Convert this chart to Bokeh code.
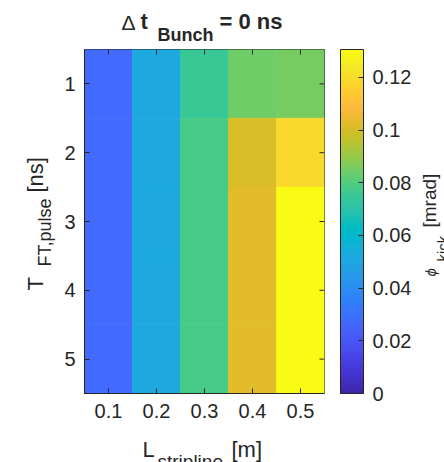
import numpy as np
from bokeh.plotting import figure
from bokeh.models import (LinearColorMapper, ColorBar, FixedTicker, Range1d,
                          ColumnDataSource, CustomJSTickFormatter)
from bokeh.core.properties import value
from bokeh.transform import transform
from bokeh.layouts import row, column
from bokeh.embed import file_html
from bokeh.resources import INLINE

# ---- data ----
L_stripline = [0.1, 0.2, 0.3, 0.4, 0.5]          # m
T_pulse = [1, 2, 3, 4, 5]                         # ns
phi_T1 = [0.0275, 0.052, 0.0745, 0.0845, 0.0855]  # mrad
phi_T2 = [0.0275, 0.052, 0.0785, 0.1015, 0.119]
phi_T3 = [0.0275, 0.052, 0.0785, 0.103, 0.1306]
phi_T4 = [0.0275, 0.052, 0.0785, 0.103, 0.1306]
phi_T5 = [0.0275, 0.052, 0.0785, 0.103, 0.1306]
phi_rows = [phi_T1, phi_T2, phi_T3, phi_T4, phi_T5]
cbar_ticks = [0, 0.02, 0.04, 0.06, 0.08, 0.1, 0.12]
clim = [0, 0.1306]

# ---- parula colormap ----
parula64 = [
    (0.2422, 0.1504, 0.6603), (0.2504, 0.1650, 0.7076), (0.2578, 0.1818, 0.7511), (0.2647, 0.1978, 0.7952),
    (0.2706, 0.2147, 0.8364), (0.2751, 0.2342, 0.8710), (0.2783, 0.2559, 0.8991), (0.2803, 0.2782, 0.9221),
    (0.2813, 0.3006, 0.9414), (0.2810, 0.3228, 0.9579), (0.2795, 0.3447, 0.9717), (0.2760, 0.3667, 0.9829),
    (0.2699, 0.3892, 0.9906), (0.2602, 0.4123, 0.9952), (0.2440, 0.4358, 0.9988), (0.2206, 0.4603, 0.9973),
    (0.1963, 0.4847, 0.9892), (0.1834, 0.5074, 0.9798), (0.1786, 0.5289, 0.9682), (0.1764, 0.5499, 0.9520),
    (0.1687, 0.5703, 0.9359), (0.1540, 0.5902, 0.9218), (0.1460, 0.6091, 0.9079), (0.1380, 0.6276, 0.8973),
    (0.1248, 0.6459, 0.8883), (0.1113, 0.6630, 0.8763), (0.0952, 0.6798, 0.8598), (0.0689, 0.6948, 0.8394),
    (0.0297, 0.7082, 0.8163), (0.0036, 0.7203, 0.7917), (0.0067, 0.7312, 0.7660), (0.0433, 0.7411, 0.7394),
    (0.0964, 0.7500, 0.7120), (0.1408, 0.7584, 0.6842), (0.1717, 0.7670, 0.6554), (0.1938, 0.7758, 0.6251),
    (0.2161, 0.7843, 0.5923), (0.2470, 0.7918, 0.5567), (0.2906, 0.7973, 0.5188), (0.3406, 0.8008, 0.4789),
    (0.3909, 0.8029, 0.4354), (0.4456, 0.8024, 0.3909), (0.5044, 0.7993, 0.3480), (0.5616, 0.7942, 0.3045),
    (0.6174, 0.7876, 0.2612), (0.6720, 0.7793, 0.2227), (0.7242, 0.7698, 0.1910), (0.7738, 0.7598, 0.1646),
    (0.8203, 0.7498, 0.1535), (0.8634, 0.7406, 0.1596), (0.9035, 0.7330, 0.1774), (0.9393, 0.7288, 0.2100),
    (0.9728, 0.7298, 0.2394), (0.9956, 0.7434, 0.2371), (0.9970, 0.7659, 0.2199), (0.9952, 0.7893, 0.2028),
    (0.9892, 0.8136, 0.1885), (0.9786, 0.8386, 0.1766), (0.9676, 0.8639, 0.1643), (0.9610, 0.8890, 0.1537),
    (0.9597, 0.9135, 0.1423), (0.9628, 0.9373, 0.1265), (0.9691, 0.9606, 0.1064), (0.9769, 0.9839, 0.0805)]
arr = np.array(parula64)
t64 = np.linspace(0, 1, 64)
palette = []
for t in np.linspace(0, 1, 256):
    r, g, b = (np.interp(t, t64, arr[:, k]) for k in range(3))
    palette.append("#%02x%02x%02x" % (int(round(r * 255)), int(round(g * 255)), int(round(b * 255))))

mapper = LinearColorMapper(palette=palette, low=clim[0], high=clim[1])

xs, ys, vs = [], [], []
for T, rvals in zip(T_pulse, phi_rows):
    for L, v in zip(L_stripline, rvals):
        xs.append(L); ys.append(T); vs.append(v)
src = ColumnDataSource(dict(x=xs, y=ys, v=vs))

FONT = "Liberation Sans"
TXT = "#262626"
W, H = 444, 462
LEFT_W, RIGHT_W, TOP_H, BOT_H = 58, 28, 45, 30
MAIN_W = W - LEFT_W - RIGHT_W
MAIN_H = H - TOP_H - BOT_H
# frame edges in page pixels
FL, FR, FT, FB = 84, 324, 49, 393

x_rng = Range1d(0.05, 0.55)
y_rng = Range1d(5.5, 0.5)
p = figure(width=MAIN_W, height=MAIN_H, x_range=x_rng, y_range=y_rng,
           output_backend="svg", toolbar_location=None,
           min_border_left=FL - LEFT_W, min_border_right=(W - RIGHT_W) - FR,
           min_border_top=FT - TOP_H, min_border_bottom=(TOP_H + MAIN_H) - FB,
           background_fill_color="white", border_fill_color="white")
p.rect(x="x", y="y", width=0.1, height=1, source=src,
       fill_color=transform("v", mapper), line_color=transform("v", mapper), line_width=0.6)

# mirrored inner ticks on top and right edges (box like the reference)
tick_dy = 5.0 * (y_rng.start - y_rng.end) / (FB - FT)
tick_dx = 5.0 * (x_rng.end - x_rng.start) / (FR - FL)
p.segment(x0=L_stripline, x1=L_stripline, y0=[y_rng.end] * 5, y1=[y_rng.end + tick_dy] * 5,
          line_color="#262626", line_width=1)
p.segment(x0=[x_rng.end] * 5, x1=[x_rng.end - tick_dx] * 5, y0=T_pulse, y1=T_pulse,
          line_color="#262626", line_width=1)

p.grid.visible = False
p.outline_line_color = "#262626"
p.outline_line_width = 1
for ax in (p.xaxis[0], p.yaxis[0]):
    ax.major_tick_in = 5
    ax.major_tick_out = 0
    ax.minor_tick_line_color = None
    ax.axis_line_color = "#262626"
    ax.major_tick_line_color = "#262626"
    ax.major_label_text_font = FONT
    ax.major_label_text_font_size = "20px"
    ax.major_label_text_color = TXT
p.xaxis.ticker = FixedTicker(ticks=L_stripline)
p.yaxis.ticker = FixedTicker(ticks=T_pulse)
p.xaxis.major_label_standoff = 10
p.yaxis.major_label_standoff = 9

cb = ColorBar(color_mapper=mapper, width=23, height=FB - FT, padding=0, margin=0,
              location=(16, 0),
              ticker=FixedTicker(ticks=cbar_ticks),
              formatter=CustomJSTickFormatter(code="let s = tick.toFixed(2).replace(/0+$/, ''); return s.replace(/\\.$/, '');"),
              major_label_text_font=FONT, major_label_text_font_size="20px", major_label_text_color=TXT,
              label_standoff=9, major_tick_in=5, major_tick_out=0, major_tick_line_color="#262626",
              minor_tick_line_color=None, bar_line_color="#262626", border_line_color=None,
              background_fill_color=None)
p.add_layout(cb, "right")


def text_panel(w, h, xr, yr):
    f = figure(width=w, height=h, x_range=xr, y_range=yr,
               x_axis_type=None, y_axis_type=None, output_backend="svg", toolbar_location=None,
               min_border=0, min_border_left=0, min_border_right=0, min_border_top=0, min_border_bottom=0,
               background_fill_color="white", border_fill_color="white", title=None)
    f.outline_line_color = None
    f.grid.visible = False
    return f


def put(f, text, x, y, size, angle=0.0, style="normal"):
    # x, y: page pixels of the text's left end on its middle line
    f.text(x=[x], y=[y], text=[text], angle=angle, text_font=value(FONT), text_font_size="%dpx" % size,
           text_color=TXT, text_align="left", text_baseline="middle", text_font_style=style)


r90 = np.pi / 2

# title: Δ t_Bunch = 0 ns (panels stacked with the main plot share its frame horizontally)
top = text_panel(MAIN_W, TOP_H, Range1d(FL, FR), Range1d(TOP_H, 0))
put(top, "\u0394", 121, 22, 21)
put(top, "t", 140, 21, 22, style="bold")
put(top, "Bunch", 157, 34, 18, style="bold")
put(top, "= 0 ns", 219, 21, 22, style="bold")

# x label: L_stripline [m]
y0 = TOP_H + MAIN_H
bot = text_panel(MAIN_W, BOT_H, Range1d(FL, FR), Range1d(H, y0))
put(bot, "L", 142, 449, 22)
put(bot, "stripline", 157, 461, 19)
put(bot, "[m]", 231, 449, 22)

# y label: T_FT,pulse [ns]
lft = text_panel(LEFT_W, H, Range1d(0, LEFT_W), Range1d(H, 0))
put(lft, "T", 35, 290, 22, angle=r90)
put(lft, "FT,pulse", 44, 266, 18, angle=r90)
put(lft, "[ns]", 35, 192, 22, angle=r90)

# colorbar label: phi_kick [mrad]
x0 = W - RIGHT_W
rgt = text_panel(RIGHT_W, H, Range1d(x0, W), Range1d(H, 0))
put(rgt, "\u03d5", 430, 276, 15, angle=r90, style="italic")
put(rgt, "kick", 442, 261, 15, angle=r90)
put(rgt, "[mrad]", 429, 227, 19, angle=r90)

layout = row(lft, column(top, p, bot, spacing=0), rgt, spacing=0)
open("out.html", "w").write(file_html(layout, INLINE))
